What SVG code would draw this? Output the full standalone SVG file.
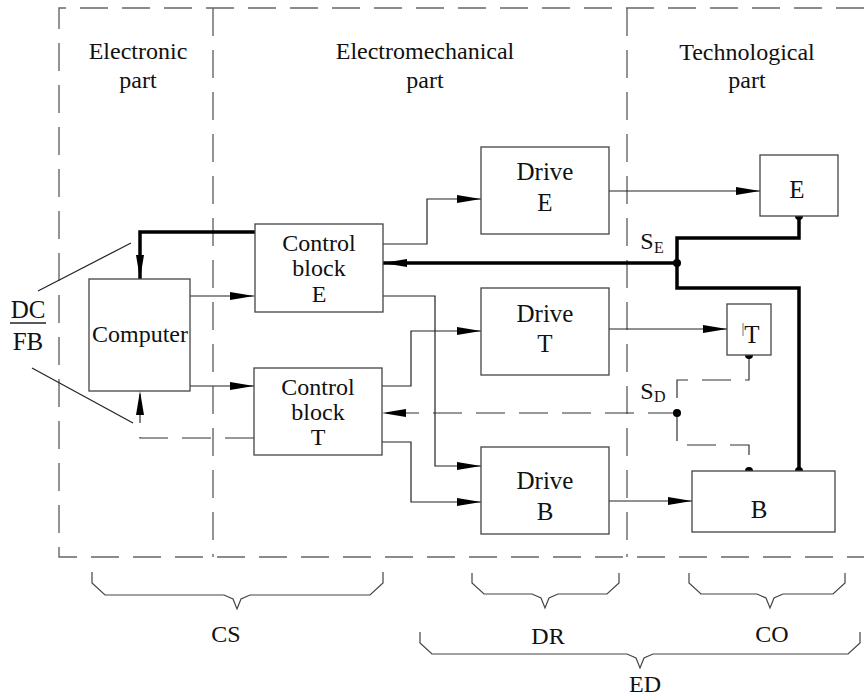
<svg xmlns="http://www.w3.org/2000/svg" width="864" height="696" viewBox="0 0 864 696">
<style>
text{font-family:"Liberation Serif","Times New Roman",serif;fill:#111;text-anchor:middle}
.t24{font-size:24px}
.t25{font-size:25px}
.sub{font-size:16px;text-anchor:start}
.box{fill:#fff;stroke:#444;stroke-width:1.3}
.ln{fill:none;stroke:#222;stroke-width:1.2}
.thick{fill:none;stroke:#000;stroke-width:3.5}
.dash{fill:none;stroke:#333;stroke-width:1.2;stroke-dasharray:29,14}
.frame{fill:none;stroke:#666;stroke-width:1.4;stroke-dasharray:28,14}
.brace{fill:none;stroke:#444;stroke-width:1.2}
.dot{fill:#000}
</style>
<defs>
<marker id="arr" markerUnits="userSpaceOnUse" markerWidth="24" markerHeight="8" refX="24" refY="4" orient="auto" viewBox="0 0 24 8">
<path d="M0,0 L24,4 L0,8 z" fill="#000"/>
</marker>
</defs>
<rect width="864" height="696" fill="#fff"/>

<g id="frame">
<path class="frame" d="M864,8 H59 V557 H864"/>
<path class="frame" d="M213,8 V557"/>
<path class="frame" d="M627,8 V557"/>
<text class="t24" x="138" y="59">Electronic</text>
<text class="t24" x="138" y="88">part</text>
<text class="t24" x="425" y="59">Electromechanical</text>
<text class="t24" x="425" y="88">part</text>
<text class="t24" x="747" y="60">Technological</text>
<text class="t24" x="747" y="88">part</text>
</g>

<g id="connectors">
<path class="ln" d="M190,296 H254" marker-end="url(#arr)"/>
<path class="ln" d="M190,386 H254" marker-end="url(#arr)"/>
<path class="ln" d="M383,244 H427 V199 H481" marker-end="url(#arr)"/>
<path class="ln" d="M383,296 H435 V466 H481" marker-end="url(#arr)"/>
<path class="ln" d="M382,386 H411 V331 H481" marker-end="url(#arr)"/>
<path class="ln" d="M382,442 H411 V502 H481" marker-end="url(#arr)"/>
<path class="ln" d="M609,191 H760" marker-end="url(#arr)"/>
<path class="ln" d="M609,329 H727" marker-end="url(#arr)"/>
<path class="ln" d="M609,501 H692" marker-end="url(#arr)"/>
<path class="thick" d="M799,216 V238 H677 V288 H799 V471"/>
<path class="thick" d="M677,263 H383" marker-end="url(#arr)"/>
<path class="thick" d="M255,232 H140 V279" marker-end="url(#arr)"/>
<path class="dash" d="M749,355 V380 H677 V445 H749 V471"/>
<path class="dash" d="M677,413 H382" marker-end="url(#arr)"/>
<path class="dash" d="M254,438 H140 V391" marker-end="url(#arr)"/>
<path class="ln" d="M38,291 L131,243"/>
<path class="ln" d="M32,368 L133,423"/>
<circle class="dot" cx="799" cy="216" r="4"/>
<circle class="dot" cx="677" cy="263" r="4"/>
<circle class="dot" cx="799" cy="471" r="4"/>
<circle class="dot" cx="749" cy="355" r="4"/>
<circle class="dot" cx="677" cy="413" r="4"/>
<circle class="dot" cx="749" cy="471" r="4"/>
<text class="t24" x="647" y="249">S</text><text class="sub" x="654" y="253">E</text>
<text class="t24" x="647" y="399">S</text><text class="sub" x="654" y="402">D</text>
</g>

<g id="dcfb">
<text class="t25" x="28" y="318">DC</text>
<line x1="10" y1="323" x2="46" y2="323" stroke="#222" stroke-width="1.3"/>
<text class="t25" x="28" y="350">FB</text>
</g>

<g id="computer">
<rect class="box" x="89" y="279" width="101" height="112"/>
<text class="t24" x="140" y="342">Computer</text>
</g>

<g id="control-e">
<rect class="box" x="255" y="224" width="128" height="88"/>
<text class="t24" x="319" y="251">Control</text>
<text class="t24" x="319" y="276">block</text>
<text class="t24" x="319" y="302">E</text>
</g>

<g id="control-t">
<rect class="box" x="254" y="368" width="128" height="87"/>
<text class="t24" x="318" y="395">Control</text>
<text class="t24" x="318" y="420">block</text>
<text class="t24" x="318" y="445">T</text>
</g>

<g id="drive-e">
<rect class="box" x="481" y="147" width="128" height="87"/>
<text class="t25" x="545" y="180">Drive</text>
<text class="t25" x="545" y="211">E</text>
</g>

<g id="drive-t">
<rect class="box" x="481" y="288" width="128" height="87"/>
<text class="t25" x="545" y="322">Drive</text>
<text class="t25" x="545" y="352">T</text>
</g>

<g id="drive-b">
<rect class="box" x="481" y="447" width="128" height="87"/>
<text class="t25" x="545" y="489">Drive</text>
<text class="t25" x="545" y="520">B</text>
</g>

<g id="obj-e">
<rect class="box" x="760" y="155" width="78" height="61"/>
<text class="t25" x="797" y="198">E</text>
</g>

<g id="obj-t">
<rect class="box" x="727" y="304" width="44" height="51"/>
<line x1="743" y1="323" x2="743" y2="336" stroke="#777" stroke-width="1"/>
<text class="t25" x="752" y="343">T</text>
</g>

<g id="obj-b">
<rect class="box" x="692" y="471" width="143" height="61"/>
<text class="t25" x="759" y="518">B</text>
</g>

<g id="braces">
<path class="brace" d="M92,572 V583 L105,595 H224 L233,599 L237,609 L241,599 L250,595 H370 L383,583 V572"/>
<text class="t24" x="226" y="642">CS</text>
<path class="brace" d="M472,573 V583 L484,594 H532 L541,598 L545,608 L549,598 L558,594 H607 L619,583 V573"/>
<text class="t24" x="548" y="644">DR</text>
<path class="brace" d="M689,573 V583 L701,594 H757 L766,598 L770,608 L774,598 L783,594 H833 L845,583 V573"/>
<text class="t24" x="772" y="642">CO</text>
<path class="brace" d="M420,632 V643 L432,654 H627 L636,658 L640,668 L644,658 L653,654 H848 L860,643 V632"/>
<text class="t24" x="645" y="692">ED</text>
</g>
</svg>
